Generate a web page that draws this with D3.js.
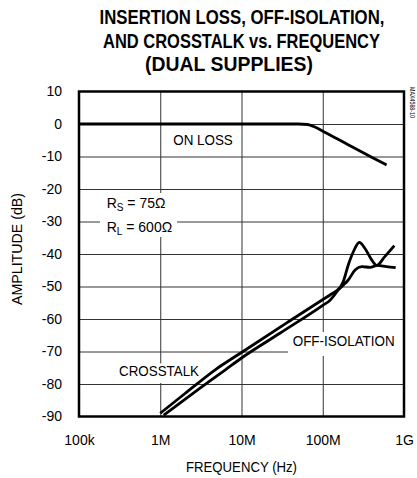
<!DOCTYPE html>
<html><head><meta charset="utf-8">
<script src="https://cdn.jsdelivr.net/npm/d3@7"></script>
<style>
html,body{margin:0;padding:0;background:#fff;}
svg{display:block;font-family:"Liberation Sans",Arial,Helvetica,sans-serif;}
</style></head>
<body>
<svg id="c" width="417" height="478"></svg>
<script>
// ---- data ----
const titleLines = ["INSERTION LOSS, OFF-ISOLATION,", "AND CROSSTALK vs. FREQUENCY", "(DUAL SUPPLIES)"];
const xTickValues = [1e5, 1e6, 1e7, 1e8, 1e9];
const xTickLabels = ["100k", "1M", "10M", "100M", "1G"];
const yTickValues = [10, 0, -10, -20, -30, -40, -50, -60, -70, -80, -90];
const yTickLabels = ["10", "0", "-10", "-20", "-30", "-40", "-50", "-60", "-70", "-80", "-90"];

const onLossFreq = [1e5, 1e6, 1e7, 3e7, 5e7, 6.5e7, 8e7, 1e8, 2e8, 4e8, 6.1e8];
const onLossDb   = [0, 0, 0, 0, 0, -0.15, -0.95, -2.2, -6.2, -10.2, -12.6];

const crosstalkFreq = [1e6, 2e6, 4.7e6, 1e7, 3.6e7, 1.23e8, 1.49e8, 1.8e8, 2.06e8, 2.5e8, 3.02e8, 3.83e8, 4.68e8, 6.1e8, 7.9e8];
const crosstalkDb   = [-89, -83.0, -75.7, -70.3, -61.2, -52.6, -51.3, -49.5, -48.0, -44.9, -43.9, -44.1, -43.5, -43.9, -44.2];

const offIsoFreq = [1.1e6, 3e6, 6.27e6, 1e7, 3e7, 1e8, 1.23e8, 1.49e8, 1.79e8, 2.06e8, 2.38e8, 2.82e8, 3.31e8, 4e8, 4.6e8, 5.8e8, 7.6e8];
const offIsoDb   = [-89.6, -81.5, -75.7, -72, -64.3, -55.8, -54.2, -51.6, -48.5, -43.4, -39.3, -36.4, -38.3, -41.8, -43.5, -40.8, -37.4];

// ---- layout ----
const svg = d3.select("#c");
const L = 79, R = 404, T = 91.5, B = 416.5;
const x = d3.scaleLog().domain([1e5, 1e9]).range([L, R]);
const y = d3.scaleLinear().domain([-90, 10]).range([B, T]);

// title (condensed bold via horizontal scale)
const titleX = [242, 241.5, 229], titleY = [24, 48, 71], titleW = [285, 277, 168];
titleLines.forEach((t, i) => {
  const g = svg.append("g");
  const tx = g.append("text").attr("x", 0).attr("y", 0)
    .attr("text-anchor", "middle").attr("font-weight", "bold").attr("font-size", 21).text(t);
  const w = tx.node().getComputedTextLength();
  const sx = titleW[i] / w;
  g.attr("transform", `translate(${titleX[i]},${titleY[i]}) scale(${sx},1)`);
});

// grid
const grid = svg.append("g");
grid.append("g").attr("transform", `translate(0,${B})`)
  .call(d3.axisBottom(x).tickValues(xTickValues.slice(1, -1)).tickSize(-(B - T)).tickFormat(""))
  .call(g => g.select(".domain").remove())
  .call(g => g.selectAll("line").attr("stroke", "#333").attr("stroke-width", 1));
grid.append("g").attr("transform", `translate(${L},0)`)
  .call(d3.axisLeft(y).tickValues(yTickValues.slice(1, -1)).tickSize(-(R - L)).tickFormat(""))
  .call(g => g.select(".domain").remove())
  .call(g => g.selectAll("line").attr("stroke", "#333").attr("stroke-width", 1));

// label backgrounds (mask grid)
const bg = svg.append("g").attr("fill", "#fff");
bg.append("rect").attr("x", 100).attr("y", 193).attr("width", 77).attr("height", 44);
bg.append("rect").attr("x", 117).attr("y", 363.5).attr("width", 84).attr("height", 19.5);
bg.append("rect").attr("x", 288).attr("y", 332).attr("width", 115).attr("height", 24);

// curves
const line = d3.line().x(d => x(d[0])).y(d => y(d[1])).curve(d3.curveMonotoneX);
const curves = svg.append("g").attr("fill", "none").attr("stroke", "#000")
  .attr("stroke-width", 2.8).attr("stroke-linejoin", "round").attr("stroke-linecap", "butt");
curves.append("path").attr("d", line(d3.zip(onLossFreq, onLossDb)));
curves.append("path").attr("d", line(d3.zip(crosstalkFreq, crosstalkDb)));
curves.append("path").attr("d", line(d3.zip(offIsoFreq, offIsoDb)));

// frame
svg.append("rect").attr("x", L).attr("y", T).attr("width", R - L).attr("height", B - T)
  .attr("fill", "none").attr("stroke", "#000").attr("stroke-width", 2.5);

// axes tick labels
const xa = svg.append("g").attr("transform", `translate(0,${B})`)
  .call(d3.axisBottom(x).tickValues(xTickValues).tickSize(0).tickPadding(19)
    .tickFormat((d, i) => xTickLabels[i]));
xa.select(".domain").remove();
xa.selectAll("text").attr("font-size", 14).attr("font-family", "Liberation Sans, Arial, sans-serif").attr("fill", "#000");

const ya = svg.append("g").attr("transform", `translate(${L},0)`)
  .call(d3.axisLeft(y).tickValues(yTickValues).tickSize(0).tickPadding(17)
    .tickFormat((d, i) => yTickLabels[i]));
ya.select(".domain").remove();
ya.selectAll("text").attr("font-size", 14).attr("font-family", "Liberation Sans, Arial, sans-serif").attr("fill", "#000");

// axis titles
svg.append("text").attr("x", 241.5).attr("y", 472).attr("text-anchor", "middle")
  .attr("font-size", 14).attr("textLength", 111).attr("lengthAdjust", "spacingAndGlyphs")
  .text("FREQUENCY (Hz)");
svg.append("text").attr("transform", "translate(22,249) rotate(-90)").attr("text-anchor", "middle")
  .attr("font-size", 14).attr("textLength", 112).attr("lengthAdjust", "spacingAndGlyphs")
  .text("AMPLITUDE (dB)");

// side code
svg.append("text").attr("transform", "translate(410,87) rotate(90)")
  .attr("font-size", 7).attr("textLength", 31).attr("lengthAdjust", "spacingAndGlyphs")
  .text("MAX4588-10");

// annotations
function label(txt, x0, y0, w) {
  svg.append("text").attr("x", x0).attr("y", y0).attr("font-size", 14)
    .attr("textLength", w).attr("lengthAdjust", "spacingAndGlyphs").text(txt);
}
label("ON LOSS", 173.3, 145, 59.5);
label("CROSSTALK", 119, 376, 80);
label("OFF-ISOLATION", 292.7, 346, 102);

const rs = svg.append("text").attr("x", 106.7).attr("y", 208.3).attr("font-size", 14);
rs.append("tspan").text("R");
rs.append("tspan").attr("font-size", 10).attr("dy", 3).text("S");
rs.append("tspan").attr("dy", -3).text(" = 75Ω");
const rl = svg.append("text").attr("x", 106.7).attr("y", 231.7).attr("font-size", 14);
rl.append("tspan").text("R");
rl.append("tspan").attr("font-size", 10).attr("dy", 3).text("L");
rl.append("tspan").attr("dy", -3).text(" = 600Ω");
</script>
</body></html>
